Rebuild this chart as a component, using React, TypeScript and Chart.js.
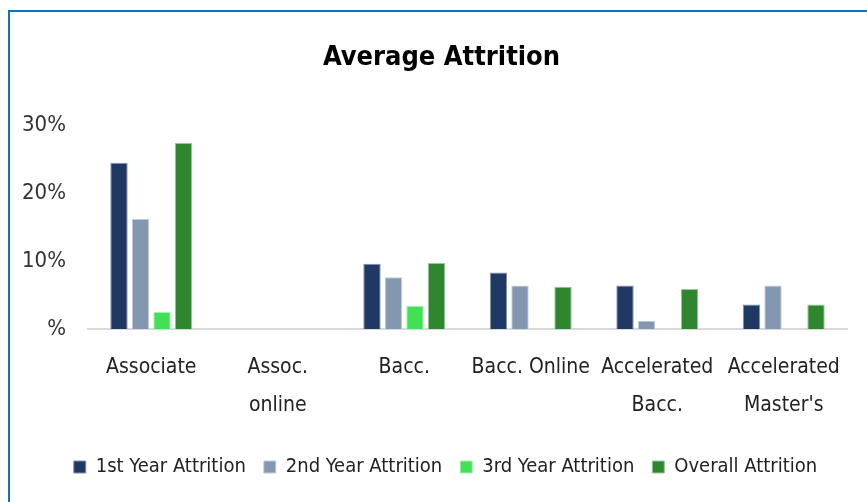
import React, { useEffect, useRef } from "react";
import { Chart, registerables } from "chart.js";

Chart.register(...registerables);

const categories: (string | string[])[] = [
  "Associate",
  ["Assoc.", "online"],
  "Bacc.",
  "Bacc. Online",
  ["Accelerated", "Bacc."],
  ["Accelerated", "Master's"],
];

const firstYear = [24.5, null, 9.6, 8.3, 6.4, 3.6];
const secondYear = [16.2, null, 7.6, 6.4, 1.2, 6.4];
const thirdYear = [2.5, null, 3.4, null, null, null];
const overall = [27.4, null, 9.7, 6.2, 5.9, 3.6];

const seriesNames = ["1st Year Attrition", "2nd Year Attrition", "3rd Year Attrition", "Overall Attrition"];
const seriesColors = ["#203864", "#8497b0", "#41e055", "#2e862e"];
const seriesEdges = ["#8391ab", "#c3ccd9", "#a8f0b0", "#9cc79c"];

const yTicks = [0, 10, 20, 30];

const FONT = "'Liberation Sans Narrow', 'DejaVu Sans Condensed', 'Liberation Sans', sans-serif";

// shifts the title and legend blocks horizontally after layout
const blockShift = {
  id: "blockShift",
  afterLayout(chart: any) {
    const t = chart.titleBlock;
    if (t) {
      t.left += 7;
      t.right += 7;
    }
    const l = chart.legend;
    if (l) {
      l.left += 11;
      l.right += 11;
    }
  },
};

export default function App() {
  const ref = useRef<HTMLCanvasElement | null>(null);

  useEffect(() => {
    if (!ref.current) return;
    const values = [firstYear, secondYear, thirdYear, overall];
    const chart = new Chart(ref.current, {
      type: "bar",
      data: {
        labels: categories,
        datasets: values.map((d, i) => ({
          label: seriesNames[i],
          data: d,
          backgroundColor: seriesColors[i],
          borderColor: seriesEdges[i],
          borderWidth: 1,
          barPercentage: 0.81,
          categoryPercentage: 0.68,
        })),
      },
      plugins: [blockShift],
      options: {
        animation: false,
        responsive: false,
        layout: { padding: { left: 12, right: 20, top: 0, bottom: 15 } },
        plugins: {
          title: {
            display: true,
            text: "Average Attrition",
            color: "#000",
            font: { family: FONT, size: 27, weight: "bold", lineHeight: 1.2 },
            padding: { top: 30, bottom: 51 },
          },
          legend: {
            position: "bottom",
            labels: {
              color: "#222",
              font: { family: FONT, size: 20 },
              boxWidth: 12,
              boxHeight: 12,
              padding: 18,
            },
          },
          tooltip: { enabled: false },
        },
        scales: {
          x: {
            grid: { display: false, drawTicks: false },
            border: { display: true, color: "#d9d9d9", width: 2 },
            afterFit: (axis: any) => {
              axis.height -= 4.5;
            },
            ticks: {
              color: "#222",
              font: { family: FONT, size: 21, lineHeight: 1.8 },
              padding: 19.5,
              maxRotation: 0,
              autoSkip: false,
            },
          },
          y: {
            min: 0,
            max: 30,
            grid: { display: false, drawTicks: false },
            border: { display: false },
            afterBuildTicks: (axis: any) => {
              axis.ticks = yTicks.map((v) => ({ value: v }));
            },
            afterFit: (axis: any) => {
              axis.width = 66;
            },
            ticks: {
              color: "#333",
              font: { family: FONT, size: 22 },
              padding: 22,
              callback: (v: any) => (Number(v) === 0 ? "%" : `${v}%`),
            },
          },
        },
      },
    });
    return () => chart.destroy();
  }, []);

  return (
    <div
      style={{
        position: "absolute",
        left: 8,
        top: 10,
        width: 859,
        height: 492,
        boxSizing: "border-box",
        borderTop: "2px solid #1170c0",
        borderLeft: "2px solid #1170c0",
        background: "#fff",
      }}
    >
      <canvas ref={ref} width={857} height={490} style={{ display: "block" }} />
    </div>
  );
}
